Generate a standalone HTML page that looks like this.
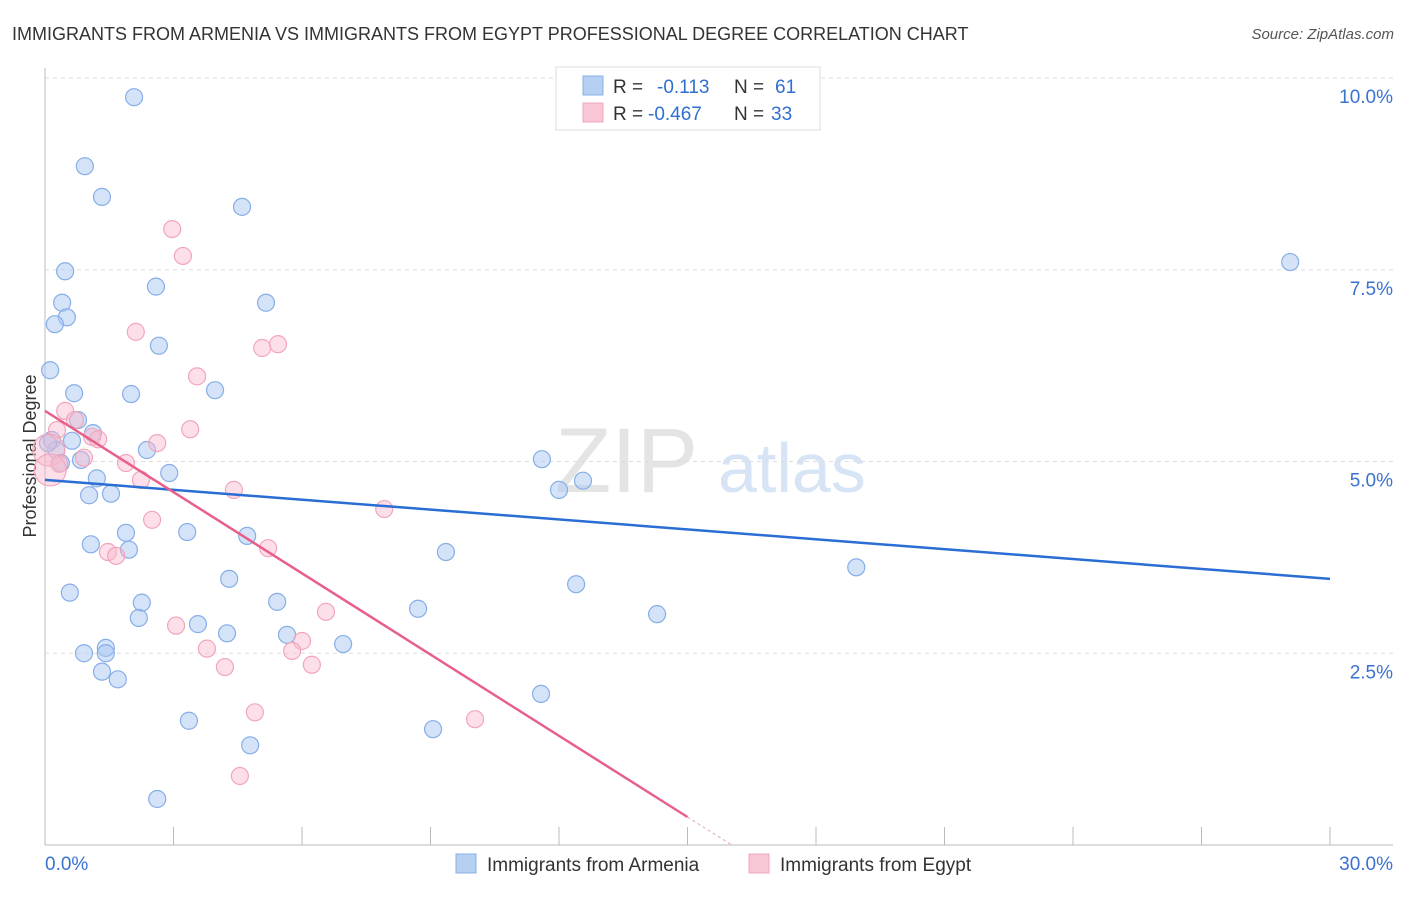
<!DOCTYPE html>
<html><head><meta charset="utf-8"><style>
body{margin:0;background:#fff;font-family:"Liberation Sans",sans-serif}
svg text{font-family:"Liberation Sans",sans-serif}
</style></head><body>
<svg id="c" width="1406" height="892">
<text x="12" y="40" font-size="18" fill="#333">IMMIGRANTS FROM ARMENIA VS IMMIGRANTS FROM EGYPT PROFESSIONAL DEGREE CORRELATION CHART</text>
<text x="1394" y="39" font-size="15" fill="#555" text-anchor="end" font-style="italic">Source: ZipAtlas.com</text>
<text x="36" y="456" font-size="18" fill="#333" text-anchor="middle" transform="rotate(-90 36 456)">Professional Degree</text>
<g><text x="555" y="492" font-size="92" fill="#e4e4e4" font-family="Liberation Serif,serif">ZIP</text><text x="718" y="492" font-size="70" fill="#d6e4f5">atlas</text></g>
<g id="grid"></g><g id="pts"></g><g id="lines"></g>
<g>
<rect x="556" y="67" width="264" height="63" fill="#fff" stroke="#ddd"/>
<rect x="583" y="76" width="20" height="19" fill="#b6d0f3" stroke="#8ab0e6"/>
<rect x="583" y="103" width="20" height="19" fill="#f8c6d4" stroke="#f0a8bd"/>
<text x="613" y="93" font-size="19" fill="#333">R =</text><text x="657" y="93" font-size="19" fill="#2f6fd0">-0.113</text>
<text x="734" y="93" font-size="19" fill="#333">N =</text><text x="775" y="93" font-size="19" fill="#2f6fd0">61</text>
<text x="613" y="120" font-size="19" fill="#333">R =</text><text x="648" y="120" font-size="19" fill="#2f6fd0">-0.467</text>
<text x="734" y="120" font-size="19" fill="#333">N =</text><text x="771" y="120" font-size="19" fill="#2f6fd0">33</text>
</g>
<g>
<rect x="456" y="854" width="20" height="19" fill="#b6d0f3" stroke="#8ab0e6"/>
<text x="487" y="871" font-size="19" fill="#333">Immigrants from Armenia</text>
<rect x="749" y="854" width="20" height="19" fill="#f8c6d4" stroke="#f0a8bd"/>
<text x="780" y="871" font-size="19" fill="#333">Immigrants from Egypt</text>
</g>
</svg>
<script>
const blueX=[2.08,0.93,1.33,4.60,0.47,2.59,5.16,0.40,0.51,0.23,2.66,0.12,2.01,3.97,0.68,0.77,1.12,0.16,0.63,0.26,2.38,0.84,0.37,2.90,1.21,1.03,1.54,11.60,12.00,12.56,1.89,3.32,4.72,1.07,1.96,9.36,4.30,12.40,18.94,0.58,2.26,5.42,2.19,8.71,14.29,3.57,4.25,5.65,6.96,0.91,1.42,1.42,1.33,1.70,11.58,3.36,9.06,4.79,2.62,29.07,0.07];
const blueY=[9.75,8.85,8.45,8.32,7.48,7.28,7.07,7.07,6.88,6.79,6.51,6.19,5.88,5.93,5.89,5.54,5.37,5.28,5.27,5.15,5.15,5.02,4.98,4.85,4.78,4.56,4.58,5.03,4.63,4.75,4.07,4.08,4.03,3.92,3.85,3.82,3.47,3.40,3.62,3.29,3.16,3.17,2.96,3.08,3.01,2.88,2.76,2.74,2.62,2.50,2.57,2.50,2.26,2.16,1.97,1.62,1.51,1.30,0.60,7.60,5.24];
const pinkX=[2.97,3.22,2.12,5.07,5.44,3.55,0.47,0.28,0.70,3.39,1.10,1.24,2.62,0.09,0.91,0.33,1.89,2.24,4.41,2.50,7.92,1.47,1.66,5.21,6.56,3.06,3.78,6.00,5.77,4.20,6.23,4.90,10.04,4.55,0.12];
const pinkY=[8.03,7.68,6.69,6.48,6.53,6.11,5.66,5.41,5.54,5.42,5.32,5.29,5.24,5.15,5.05,4.97,4.98,4.76,4.63,4.24,4.38,3.82,3.77,3.87,3.04,2.86,2.56,2.66,2.53,2.32,2.35,1.73,1.64,0.90,4.89];
const pinkBig=[0,0,0,0,0,0,0,0,0,0,0,0,0,1,0,0,0,0,0,0,0,0,0,0,0,0,0,0,0,0,0,0,0,0,1];
const yTicks=[2.5,5.0,7.5,10.0];
const xTickLabels=["0.0%","30.0%"];
const blueTrend=[4.76,3.47];
const pinkTrend=[5.66,-0.353];
const X=v=>45+v/30*1285, Y=v=>845-v/10*767;
const NS="http://www.w3.org/2000/svg";
function mk(p,t,a){const e=document.createElementNS(NS,t);for(const k in a)e.setAttribute(k,a[k]);p.appendChild(e);return e;}
const grid=document.getElementById('grid'),pts=document.getElementById('pts'),lines=document.getElementById('lines');
yTicks.forEach(v=>{
 const l=mk(grid,'line',{x1:45,x2:1393,y1:Y(v),y2:Y(v),stroke:'#ddd','stroke-dasharray':'4 4'});
 
 
 const t=mk(grid,'text',{x:1393,y:Y(v)+25,'font-size':19,fill:'#3a72d0','text-anchor':'end'});t.textContent=v.toFixed(1)+'%';
 
 
});
mk(grid,'line',{x1:45,x2:45,y1:68,y2:845,stroke:'#bbb'});
mk(grid,'line',{x1:45,x2:1393,y1:845,y2:845,stroke:'#bbb'});
for(let i=0;i<=10;i++){mk(grid,'line',{x1:X(i*3),x2:X(i*3),y1:827,y2:845,stroke:'#bbb'});}
xTickLabels.forEach((s,i)=>{const t=mk(grid,'text',{x:i?1393:45,y:870,'font-size':19,fill:'#3a72d0','text-anchor':i?'end':'start'});t.textContent=s;
 
 });
blueX.forEach((v,i)=>{const c=mk(pts,'circle',{cx:X(v),cy:Y(blueY[i]),r:8.5,fill:'rgba(170,200,242,0.5)',stroke:'#86aee8','stroke-width':1.2});
 
 });
pinkX.forEach((v,i)=>{const c=mk(pts,'circle',{cx:X(v),cy:Y(pinkY[i]),r:pinkBig[i]?16:8.5,fill:'rgba(248,185,205,0.45)',stroke:'#f2a6bd','stroke-width':1.2});
 
 });
const bl=mk(lines,'line',{x1:X(0),y1:Y(blueTrend[0]),x2:X(30),y2:Y(blueTrend[1]),stroke:'#2a6dd4','stroke-width':2.5});


const pe=15, pz=-pinkTrend[0]/pinkTrend[1];
const pl=mk(lines,'line',{x1:X(0),y1:Y(pinkTrend[0]),x2:X(pe),y2:Y(pinkTrend[0]+pinkTrend[1]*pe),stroke:'#e8608a','stroke-width':2.5});


const pd=mk(lines,'line',{x1:X(pe),y1:Y(pinkTrend[0]+pinkTrend[1]*pe),x2:X(pz),y2:Y(0),stroke:'#e8a0b5','stroke-width':1,'stroke-dasharray':'3 3'});


</script>
</body></html>
